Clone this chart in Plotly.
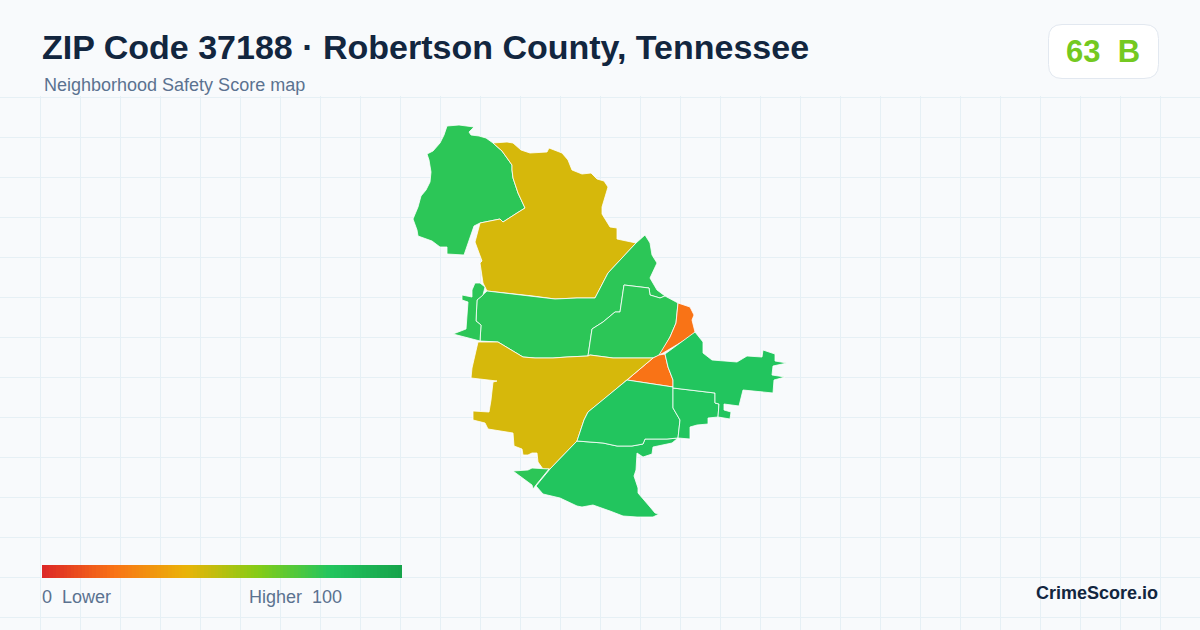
"""
Neighborhood safety score map for ZIP 37188, drawn as filled tract outlines.
Outline vertices are traced from the source map, in page units.
"""

import plotly.graph_objects as go
from plotly.colors import sample_colorscale

# ---------------------------------------------------------------------------
# DATA
# ---------------------------------------------------------------------------
TITLE = "ZIP Code 37188 · Robertson County, Tennessee"
SUBTITLE = "Neighborhood Safety Score map"
ZIP_SCORE = "63"
ZIP_GRADE = "B"
BRAND = "CrimeScore.io"

SCALE_STOPS = [0.0, 0.2, 0.4, 0.6, 0.8, 1.0]
SCALE_COLORS = ["#dc2626", "#f97316", "#eab308", "#84cc16", "#22c55e", "#16a34a"]
LEGEND_VALUES = [v + 0.5 for v in range(100)]

NORTHWEST = [
    (447, 126), (459, 125), (474, 127), (469, 132), (471, 135), (479, 136), (486, 138),
    (493, 143), (502, 151), (512, 165), (512, 170), (513, 178), (518, 193), (525, 208),
    (517, 213), (503, 222), (500, 219), (480, 223), (474, 226), (464, 255), (447, 254),
    (447, 247), (440, 247), (432, 241), (418, 236), (417, 230), (413, 219), (418, 207),
    (421, 196), (426, 190), (430, 182), (431, 172), (429, 160), (427, 154), (433, 151),
    (440, 143), (444, 135),
]
NORTH = [
    (493, 143), (507, 142), (513, 143), (521, 150), (530, 153), (547, 152), (549, 148),
    (562, 153), (568, 160), (572, 170), (582, 174), (591, 173), (597, 179), (604, 181),
    (608, 187), (602, 207), (602, 214), (610, 227), (617, 228), (617, 239), (636, 243),
    (645, 235), (636, 243), (608, 273), (595, 298), (577, 298), (555, 299), (533, 296),
    (487, 291), (483, 283), (480, 263), (482, 261), (475, 242), (479, 227), (480, 223),
    (500, 219), (503, 222), (517, 213), (525, 208), (518, 193), (513, 178), (512, 170),
    (512, 165), (502, 151),
]
CENTRAL = [
    (645, 235), (650, 243), (652, 255), (657, 263), (650, 278), (657, 290), (665, 296),
    (660, 298), (650, 295), (649, 288), (624, 285), (620, 312), (615, 312), (603, 322),
    (592, 329), (588, 356), (567, 357), (553, 358), (535, 358), (523, 357), (508, 348),
    (498, 342), (480, 341), (481, 325), (476, 321), (477, 300), (487, 291), (533, 296),
    (555, 299), (577, 298), (595, 298), (608, 273), (636, 243),
]
WEST_SLIVER = [
    (480, 341), (453, 334), (466, 329), (468, 302), (462, 300), (462, 295), (472, 297),
    (472, 290), (475, 283), (480, 283), (485, 287), (483, 295), (477, 300), (476, 321),
    (481, 325),
]
MID_EAST = [
    (624, 285), (649, 288), (650, 295), (660, 298), (665, 296), (678, 303), (676, 323),
    (670, 337), (660, 355), (653, 358), (613, 358), (590, 355), (588, 356), (592, 329),
    (603, 322), (615, 312), (620, 312),
]
EAST_SLIVER = [
    (678, 303), (690, 307), (694, 315), (692, 320), (695, 332), (690, 337), (663, 353),
    (659, 355), (670, 337), (676, 323),
]
TRIANGLE = [
    (659, 355), (665, 354), (668, 367), (673, 380), (673, 387), (627, 380), (653, 358),
]
SOUTH_CENTRAL = [
    (478, 342), (498, 342), (508, 348), (523, 357), (535, 358), (553, 358), (567, 357),
    (588, 356), (590, 355), (613, 358), (653, 358), (627, 380), (603, 400), (588, 412),
    (584, 420), (577, 441), (550, 469), (543, 469), (538, 462), (537, 453), (532, 453),
    (528, 455), (523, 455), (522, 449), (514, 446), (513, 433), (488, 429), (485, 423),
    (473, 420), (473, 411), (489, 412), (491, 400), (493, 382), (497, 381), (471, 378),
    (472, 368),
]
SOUTHWEST_TIP = [
    (513, 471), (528, 470), (532, 468), (549, 469), (536, 485), (533, 489), (532, 485),
    (523, 478),
]
SOUTH = [
    (550, 469), (577, 441), (603, 443), (617, 446), (632, 446), (643, 444), (645, 439),
    (667, 439), (678, 438), (672, 443), (653, 447), (652, 454), (643, 457), (637, 453),
    (636, 470), (634, 476), (638, 488), (638, 493), (650, 507), (655, 513), (659, 514),
    (653, 517), (637, 517), (623, 516), (610, 511), (593, 505), (582, 507), (577, 506),
    (560, 498), (543, 494), (536, 486),
]
MID_SOUTH = [
    (577, 441), (584, 420), (588, 412), (603, 400), (627, 380), (673, 387), (673, 408),
    (680, 420), (678, 438), (667, 439), (645, 439), (643, 444), (632, 446), (617, 446),
    (603, 443),
]
SOUTHEAST = [
    (673, 388), (715, 393), (715, 403), (719, 404), (718, 417), (708, 418), (708, 424),
    (697, 425), (690, 427), (690, 439), (678, 438), (680, 420), (673, 408),
]
EAST = [
    (665, 354), (695, 332), (703, 342), (703, 353), (712, 360), (737, 362), (747, 356),
    (762, 357), (763, 350), (775, 354), (775, 361), (787, 363), (773, 366), (772, 375),
    (785, 377), (774, 380), (773, 393), (743, 390), (739, 406), (724, 404), (724, 410),
    (731, 412), (730, 419), (718, 417), (719, 404), (715, 403), (715, 393), (673, 388),
    (673, 380), (668, 367),
]

TRACTS = [
    NORTHWEST, NORTH, CENTRAL, WEST_SLIVER, MID_EAST, EAST_SLIVER, TRIANGLE,
    SOUTH_CENTRAL, SOUTHWEST_TIP, SOUTH, MID_SOUTH, SOUTHEAST, EAST,
]
TRACT_SCORES = [78, 44, 78, 78, 78, 20, 20, 44, 78, 80, 80, 80, 80]

# ---------------------------------------------------------------------------
# STYLE
# ---------------------------------------------------------------------------
PAGE_WIDTH = 1200
PAGE_HEIGHT = 630
FONT = "Liberation Sans"
BACKGROUND = "#f8fafc"
GRID_COLOR = "#e6f0f5"
GRADE_COLOR = "#74c921"

colorscale = [[s, c] for s, c in zip(SCALE_STOPS, SCALE_COLORS)]

fig = go.Figure()

for tract, score in zip(TRACTS, TRACT_SCORES):
    xs = [p[0] for p in tract] + [tract[0][0]]
    ys = [p[1] for p in tract] + [tract[0][1]]
    fig.add_trace(
        go.Scatter(
            x=xs,
            y=ys,
            mode="lines",
            fill="toself",
            fillcolor=sample_colorscale(colorscale, score / 100)[0],
            line=dict(color="#ffffff", width=0.8),
            hoverinfo="skip",
            showlegend=False,
        )
    )

# Legend ramp
fig.add_trace(
    go.Heatmap(
        z=[LEGEND_VALUES],
        x0=43.8,
        dx=3.6,
        y0=571.5,
        dy=13,
        zmin=0,
        zmax=100,
        colorscale=colorscale,
        showscale=False,
        hoverinfo="skip",
    )
)

# Header band hides the grid, score badge sits on top of it
fig.add_shape(
    type="rect", x0=0, x1=PAGE_WIDTH, y0=0, y1=96,
    fillcolor=BACKGROUND, line_width=0, layer="between",
)
fig.add_shape(
    type="path",
    path="M 1062 24.5 H 1144 Q 1158.5 24.5 1158.5 38.5 V 64.5 Q 1158.5 78.5 1144 78.5 "
         "H 1062 Q 1048.5 78.5 1048.5 64.5 V 38.5 Q 1048.5 24.5 1062 24.5 Z",
    fillcolor="#ffffff",
    line=dict(color="#e2e8f0", width=1),
    layer="between",
)


def add_text(x, y, text, size, color, bold=False, anchor="left"):
    fig.add_annotation(
        x=x, y=y, xref="x", yref="y",
        text=f"<b>{text}</b>" if bold else text,
        showarrow=False,
        xanchor=anchor,
        yanchor="middle",
        borderpad=0,
        font=dict(family=FONT, size=size, color=color),
    )


add_text(41, 47, TITLE, 34, "#12263f", bold=True)
add_text(43, 85, SUBTITLE, 18, "#5b7290")
add_text(1103, 51, f"{ZIP_SCORE}&nbsp;&nbsp;{ZIP_GRADE}", 31, GRADE_COLOR, bold=True, anchor="center")
add_text(41, 597, "0&nbsp;&nbsp;Lower", 18, "#5b7290")
add_text(248, 597, "Higher&nbsp;&nbsp;100", 18, "#5b7290")
add_text(1159, 593, BRAND, 18, "#12263f", bold=True, anchor="right")

fig.update_layout(
    width=PAGE_WIDTH,
    height=PAGE_HEIGHT,
    margin=dict(l=0, r=0, t=0, b=0),
    paper_bgcolor=BACKGROUND,
    plot_bgcolor=BACKGROUND,
    showlegend=False,
    xaxis=dict(
        range=[0, PAGE_WIDTH], tick0=0.5, dtick=40, gridcolor=GRID_COLOR, gridwidth=1,
        showticklabels=False, zeroline=False, ticks="", fixedrange=True,
    ),
    yaxis=dict(
        range=[PAGE_HEIGHT, 0], tick0=97, dtick=40, gridcolor=GRID_COLOR, gridwidth=1,
        showticklabels=False, zeroline=False, ticks="", fixedrange=True,
    ),
)

fig.write_html(
    "out.html",
    config={"displayModeBar": False},
    post_script="document.body.style.margin = '0';",
)
